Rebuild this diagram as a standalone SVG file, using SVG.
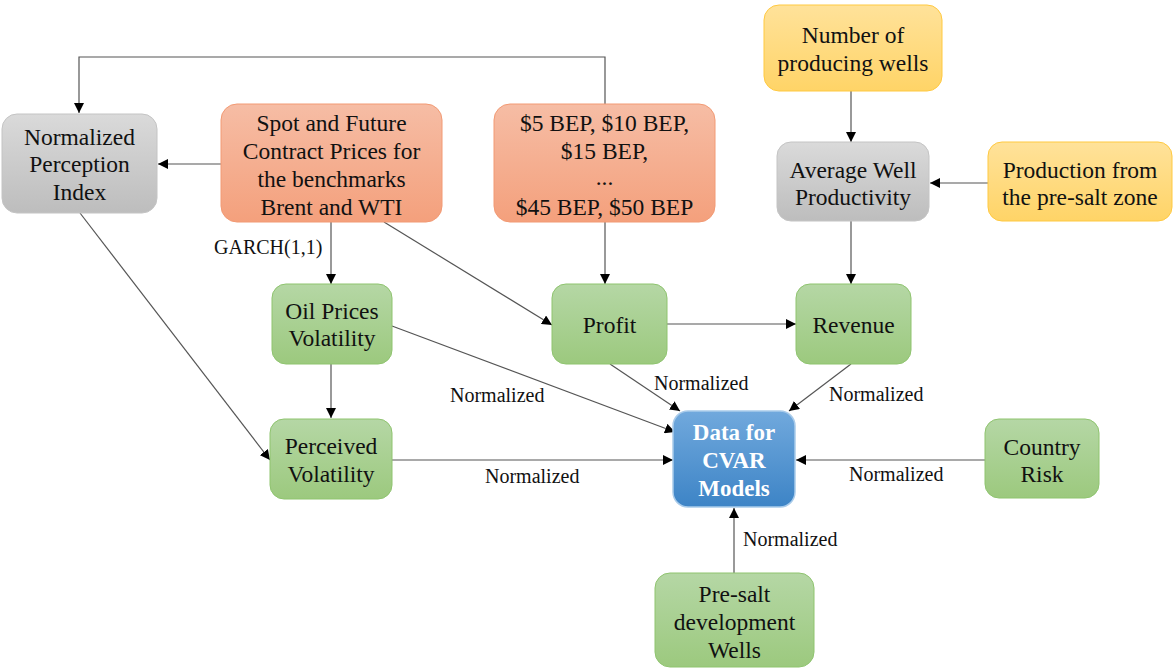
<svg xmlns="http://www.w3.org/2000/svg" width="1175" height="670" viewBox="0 0 1175 670">
<defs>
<linearGradient id="gOr" x1="0" y1="0" x2="0" y2="1"><stop offset="0" stop-color="#f6bda5"/><stop offset="1" stop-color="#f4a07c"/></linearGradient>
<linearGradient id="gGr" x1="0" y1="0" x2="0" y2="1"><stop offset="0" stop-color="#dadada"/><stop offset="1" stop-color="#bdbdbd"/></linearGradient>
<linearGradient id="gGn" x1="0" y1="0" x2="0" y2="1"><stop offset="0" stop-color="#b5d7a5"/><stop offset="1" stop-color="#9cc97e"/></linearGradient>
<linearGradient id="gYe" x1="0" y1="0" x2="0" y2="1"><stop offset="0" stop-color="#ffe29a"/><stop offset="1" stop-color="#ffd467"/></linearGradient>
<linearGradient id="gBl" x1="0" y1="0" x2="0" y2="1"><stop offset="0" stop-color="#71a9dd"/><stop offset="1" stop-color="#3d84c6"/></linearGradient>
<marker id="arr" viewBox="0 0 10 10" refX="10" refY="5" markerWidth="10" markerHeight="10" markerUnits="userSpaceOnUse" orient="auto"><path d="M0,0 L10,5 L0,10 z" fill="#000"/></marker>
</defs>
<style>
.or{fill:url(#gOr);stroke:#f29a74;stroke-width:1}
.gr{fill:url(#gGr);stroke:#c4c4c4;stroke-width:1}
.gn{fill:url(#gGn);stroke:#8fc46f;stroke-width:1}
.ye{fill:url(#gYe);stroke:#ffc940;stroke-width:1}
.bl{fill:url(#gBl);stroke:#a9cbea;stroke-width:1.5}
.t{font-family:"Liberation Serif","Times New Roman",serif;font-size:23.5px;fill:#111;text-anchor:middle}
.tb{font-family:"Liberation Serif","Times New Roman",serif;font-size:23px;font-weight:bold;fill:#fff;text-anchor:middle}
.lb{font-family:"Liberation Serif","Times New Roman",serif;font-size:20px;fill:#111}
.c{fill:none;stroke:#555;stroke-width:1.2;marker-end:url(#arr)}
</style>
<rect width="1175" height="670" fill="#fff"/>
<g id="connectors">
<polyline class="c" points="605,104 605,57 79,57 79,113"/>
<line class="c" x1="221" y1="164" x2="158" y2="164"/>
<line class="c" x1="331" y1="222" x2="331" y2="284"/>
<line class="c" x1="384" y1="222" x2="552" y2="325"/>
<line class="c" x1="605" y1="222" x2="605" y2="284"/>
<line class="c" x1="851" y1="91" x2="851" y2="142"/>
<line class="c" x1="988" y1="183" x2="930" y2="183"/>
<line class="c" x1="851" y1="221" x2="851" y2="284"/>
<line class="c" x1="667" y1="324" x2="796" y2="324"/>
<line class="c" x1="80" y1="213" x2="270" y2="460"/>
<line class="c" x1="331" y1="364" x2="331" y2="418"/>
<line class="c" x1="392" y1="326" x2="675" y2="432"/>
<line class="c" x1="610" y1="364" x2="680" y2="411"/>
<line class="c" x1="851" y1="364" x2="789" y2="411"/>
<line class="c" x1="392" y1="460" x2="673" y2="460"/>
<line class="c" x1="985" y1="460" x2="796" y2="460"/>
<line class="c" x1="734" y1="573" x2="734" y2="508"/>
<text class="lb" x="214" y="254">GARCH(1,1)</text>
<text class="lb" x="450" y="402">Normalized</text>
<text class="lb" x="654" y="390">Normalized</text>
<text class="lb" x="829" y="401">Normalized</text>
<text class="lb" x="485" y="483">Normalized</text>
<text class="lb" x="849" y="481">Normalized</text>
<text class="lb" x="743" y="546">Normalized</text>
</g>
<g id="npi"><rect class="gr" x="2" y="114" width="155" height="99" rx="15"/>
<text class="t" x="79.5" y="145">Normalized</text><text class="t" x="79.5" y="172">Perception</text><text class="t" x="79.5" y="200">Index</text></g>
<g id="spot"><rect class="or" x="221" y="104" width="221" height="118" rx="16"/>
<text class="t" x="331.5" y="131">Spot and Future</text><text class="t" x="331.5" y="159">Contract Prices for</text><text class="t" x="331.5" y="187">the benchmarks</text><text class="t" x="331.5" y="215">Brent and WTI</text></g>
<g id="bep"><rect class="or" x="494" y="104" width="221" height="118" rx="16"/>
<text class="t" x="604.5" y="131">$5 BEP, $10 BEP,</text><text class="t" x="604.5" y="159">$15 BEP,</text><text class="t" x="604.5" y="185">...</text><text class="t" x="604.5" y="215">$45 BEP, $50 BEP</text></g>
<g id="wells"><rect class="ye" x="764" y="5" width="178" height="86" rx="15"/>
<text class="t" x="853" y="43">Number of</text><text class="t" x="853" y="71">producing wells</text></g>
<g id="avg"><rect class="gr" x="777" y="142" width="152" height="79" rx="14"/>
<text class="t" x="853" y="178">Average Well</text><text class="t" x="853" y="205">Productivity</text></g>
<g id="prod"><rect class="ye" x="988" y="142" width="184" height="79" rx="14"/>
<text class="t" x="1080" y="178">Production from</text><text class="t" x="1080" y="205">the pre-salt zone</text></g>
<g id="opv"><rect class="gn" x="272" y="284" width="120" height="80" rx="14"/>
<text class="t" x="332" y="319">Oil Prices</text><text class="t" x="332" y="346">Volatility</text></g>
<g id="profit"><rect class="gn" x="552" y="284" width="115" height="80" rx="14"/>
<text class="t" x="609.5" y="333">Profit</text></g>
<g id="revenue"><rect class="gn" x="796" y="284" width="115" height="80" rx="14"/>
<text class="t" x="853.5" y="333">Revenue</text></g>
<g id="pv"><rect class="gn" x="270" y="419" width="122" height="80" rx="14"/>
<text class="t" x="331" y="454">Perceived</text><text class="t" x="331" y="482">Volatility</text></g>
<g id="cvar"><rect class="bl" x="673" y="411" width="122" height="96" rx="15"/>
<text class="tb" x="734" y="440">Data for</text><text class="tb" x="734" y="468">CVAR</text><text class="tb" x="734" y="496">Models</text></g>
<g id="country"><rect class="gn" x="985" y="419" width="114" height="79" rx="14"/>
<text class="t" x="1042" y="455">Country</text><text class="t" x="1042" y="482">Risk</text></g>
<g id="presalt"><rect class="gn" x="655" y="573" width="159" height="94" rx="15"/>
<text class="t" x="734.5" y="602">Pre-salt</text><text class="t" x="734.5" y="630">development</text><text class="t" x="734.5" y="658">Wells</text></g>
</svg>
